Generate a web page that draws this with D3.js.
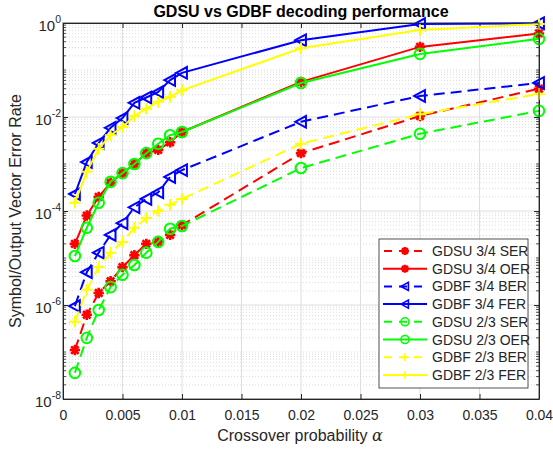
<!DOCTYPE html>
<html>
<head>
<meta charset="utf-8">
<script src="https://cdn.jsdelivr.net/npm/d3@7"></script>
<style>
  body { margin: 0; background: #ffffff; }
  text { font-family: "Liberation Sans", Arial, sans-serif; }
</style>
</head>
<body>
<div id="myChart"></div>
<script>
// data
var alpha = [0.001, 0.002, 0.003, 0.004, 0.005, 0.006, 0.007, 0.008, 0.009, 0.01, 0.02, 0.03, 0.04];

var gdsu34SER = [1.1e-7, 6.2e-7, 1.8e-6, 3.2e-6, 6.4e-6, 1.15e-5, 2.0e-5, 2.2e-5, 3.1e-5, 5.0e-5, 1.7e-3, 0.0105, 0.040];
var gdsu34OER = [2.0e-5, 8.0e-5, 2.0e-4, 4.0e-4, 6.4e-4, 1.0e-3, 1.7e-3, 2.0e-3, 2.9e-3, 4.8e-3, 0.056, 0.31, 0.60];
var gdbf34BER = [9.5e-7, 5.0e-6, 1.3e-5, 3.1e-5, 5.5e-5, 1.2e-4, 1.8e-4, 2.5e-4, 5.3e-4, 7.4e-4, 7.9e-3, 0.028, 0.053];
var gdbf34FER = [2.3e-4, 1.1e-3, 2.8e-3, 5.9e-3, 9.5e-3, 0.020, 0.026, 0.034, 0.061, 0.087, 0.43, 0.95, 0.99];
var gdsu23SER = [3.6e-8, 2.0e-7, 7.8e-7, 2.4e-6, 4.4e-6, 7.1e-6, 1.3e-5, 2.2e-5, 4.2e-5, 4.8e-5, 8.2e-4, 4.4e-3, 0.0135];
var gdsu23OER = [1.1e-5, 4.4e-5, 1.5e-4, 4.2e-4, 6.4e-4, 1.0e-3, 1.7e-3, 2.7e-3, 4.1e-3, 4.8e-3, 0.053, 0.22, 0.46];
var gdbf23BER = [4.4e-7, 2.1e-6, 6.4e-6, 1.3e-5, 2.2e-5, 4.4e-5, 7.1e-5, 1.0e-4, 1.35e-4, 1.8e-4, 2.7e-3, 0.0115, 0.031];
var gdbf23FER = [1.5e-4, 6.8e-4, 2.1e-3, 4.1e-3, 6.1e-3, 0.0105, 0.015, 0.021, 0.027, 0.037, 0.29, 0.71, 0.95];

var xTicks = [0, 0.005, 0.01, 0.015, 0.02, 0.025, 0.03, 0.035, 0.04];
var xTickLabels = ["0", "0.005", "0.01", "0.015", "0.02", "0.025", "0.03", "0.035", "0.04"];
var yTicks = [1e-8, 1e-6, 1e-4, 1e-2, 1];
var yTickExp = ["-8", "-6", "-4", "-2", "0"];

var series = [
  {name: "GDSU 3/4 SER", values: gdsu34SER, color: "#ff0000", dash: true,  marker: "star"},
  {name: "GDSU 3/4 OER", values: gdsu34OER, color: "#ff0000", dash: false, marker: "star"},
  {name: "GDBF 3/4 BER", values: gdbf34BER, color: "#0000ff", dash: true,  marker: "tri"},
  {name: "GDBF 3/4 FER", values: gdbf34FER, color: "#0000ff", dash: false, marker: "tri"},
  {name: "GDSU 2/3 SER", values: gdsu23SER, color: "#00ff00", dash: true,  marker: "circle"},
  {name: "GDSU 2/3 OER", values: gdsu23OER, color: "#00ff00", dash: false, marker: "circle"},
  {name: "GDBF 2/3 BER", values: gdbf23BER, color: "#ffff00", dash: true,  marker: "plus"},
  {name: "GDBF 2/3 FER", values: gdbf23FER, color: "#ffff00", dash: false, marker: "plus"}
];

// set the dimensions and margins of the graph
var margin = {top: 23, right: 14, bottom: 50, left: 63},
    width = 553 - margin.left - margin.right,
    height = 449 - margin.top - margin.bottom;

var axisColor = "#262626";

var root = d3.select("#myChart")
  .append("svg")
    .attr("width", 553)
    .attr("height", 449);

var svg = root.append("g")
    .attr("transform", "translate(" + margin.left + "," + margin.top + ")");

var x = d3.scaleLinear().domain([0, 0.04]).range([0, width]);
var y = d3.scaleLog().domain([1e-8, 1]).range([height, 0]);

// minor y values (every sub-decade except the labelled ones)
var minorY = [];
for (var e = -8; e < 0; e++) {
  for (var k = 1; k <= 9; k++) {
    var v = k * Math.pow(10, e);
    if (k == 1 && (e % 2 == 0)) continue;
    minorY.push(v);
  }
}

// minor grid (dotted)
svg.selectAll("minorgrid")
  .data(minorY)
  .enter()
  .append("line")
    .attr("x1", 0)
    .attr("x2", width)
    .attr("y1", function(d) { return y(d); })
    .attr("y2", function(d) { return y(d); })
    .attr("stroke", "#c4c4c4")
    .attr("stroke-width", 0.6)
    .style("stroke-dasharray", "1,2");

// major grid
svg.selectAll("xgrid")
  .data(xTicks.slice(1, -1))
  .enter()
  .append("line")
    .attr("x1", function(d) { return x(d); })
    .attr("x2", function(d) { return x(d); })
    .attr("y1", 0)
    .attr("y2", height)
    .attr("stroke", "#dedede")
    .attr("stroke-width", 1);

svg.selectAll("ygrid")
  .data(yTicks.slice(1, -1))
  .enter()
  .append("line")
    .attr("x1", 0)
    .attr("x2", width)
    .attr("y1", function(d) { return y(d); })
    .attr("y2", function(d) { return y(d); })
    .attr("stroke", "#dedede")
    .attr("stroke-width", 1);

// axes, ticks pointing inward
function styleAxis(g) {
  g.select(".domain").attr("stroke", axisColor);
  g.selectAll(".tick line").attr("stroke", axisColor);
  g.selectAll(".tick text").attr("fill", axisColor).style("font-size", "14px");
}

svg.append("g")
    .attr("transform", "translate(0," + height + ")")
    .call(d3.axisBottom(x)
      .tickValues(xTicks)
      .tickFormat(function(d, i) { return xTickLabels[i]; })
      .tickSizeInner(-5)
      .tickSizeOuter(0)
      .tickPadding(11))
    .call(styleAxis);

svg.append("g")
    .call(d3.axisTop(x)
      .tickValues(xTicks)
      .tickFormat("")
      .tickSizeInner(-5)
      .tickSizeOuter(0))
    .call(styleAxis);

svg.append("g")
    .call(d3.axisLeft(y)
      .tickValues(yTicks)
      .tickFormat("")
      .tickSizeInner(-5)
      .tickSizeOuter(0))
    .call(styleAxis);

svg.append("g")
    .attr("transform", "translate(" + width + ",0)")
    .call(d3.axisRight(y)
      .tickValues(yTicks)
      .tickFormat("")
      .tickSizeInner(-5)
      .tickSizeOuter(0))
    .call(styleAxis);

// minor ticks left and right
[0, width].forEach(function(x0) {
  svg.selectAll("minortick")
    .data(minorY)
    .enter()
    .append("line")
      .attr("x1", x0)
      .attr("x2", x0 == 0 ? 3 : width - 3)
      .attr("y1", function(d) { return y(d); })
      .attr("y2", function(d) { return y(d); })
      .attr("stroke", axisColor)
      .attr("stroke-width", 0.8);
});

// y tick labels 10^n
yTicks.forEach(function(t, i) {
  var txt = svg.append("text")
      .attr("x", -2)
      .attr("y", y(t) + 8)
      .attr("text-anchor", "end")
      .attr("fill", axisColor)
      .style("font-size", "15px");
  txt.append("tspan").text("10");
  txt.append("tspan")
      .attr("dy", -8)
      .style("font-size", "10.5px")
      .text(yTickExp[i]);
});

// markers
function markerPath(type, s) {
  if (type == "circle") {
    return d3.symbol().type(d3.symbolCircle).size(Math.PI * s * s)();
  }
  if (type == "tri") {
    return "M" + (-s) + ",0L" + (s * 0.85) + "," + (-s) + "L" + (s * 0.85) + "," + s + "Z";
  }
  if (type == "plus") {
    return "M" + (-s) + ",0H" + s + "M0," + (-s) + "V" + s;
  }
  // asterisk: plus and cross
  var d = s * 0.72;
  return "M" + (-s) + ",0H" + s + "M0," + (-s) + "V" + s +
         "M" + (-d) + "," + (-d) + "L" + d + "," + d +
         "M" + (-d) + "," + d + "L" + d + "," + (-d);
}
var markerSize = {circle: 5.3, tri: 5.8, plus: 5.8, star: 5.2};

var line = d3.line()
  .x(function(d) { return x(d[0]); })
  .y(function(d) { return y(d[1]); });

series.forEach(function(s) {
  var pts = alpha.map(function(a, i) { return [a, s.values[i]]; });

  svg.append("path")
    .datum(pts)
    .attr("d", line)
    .attr("fill", "none")
    .attr("stroke", s.color)
    .attr("stroke-width", 2)
    .style("stroke-dasharray", s.dash ? "11,6" : null);

  svg.selectAll("mymarker")
    .data(pts)
    .enter()
    .append("path")
      .attr("transform", function(d) { return "translate(" + x(d[0]) + "," + y(d[1]) + ")"; })
      .attr("d", markerPath(s.marker, markerSize[s.marker]))
      .attr("fill", "none")
      .attr("stroke", s.color)
      .attr("stroke-width", s.marker == "star" ? 2.6 : 2);
});

// box
svg.append("rect")
    .attr("width", width)
    .attr("height", height)
    .attr("fill", "none")
    .attr("stroke", axisColor)
    .attr("stroke-width", 0.8);

// legend
var legend = root.append("g").attr("transform", "translate(379,239)");
legend.append("rect")
    .attr("width", 149)
    .attr("height", 149)
    .attr("fill", "#ffffff")
    .attr("stroke", axisColor)
    .attr("stroke-width", 0.8);

series.forEach(function(s, i) {
  var ly = 12 + i * 17.7;
  legend.append("line")
      .attr("x1", 4)
      .attr("x2", 48)
      .attr("y1", ly)
      .attr("y2", ly)
      .attr("stroke", s.color)
      .attr("stroke-width", 2)
      .style("stroke-dasharray", s.dash ? "8,7" : null)
      .style("stroke-dashoffset", s.dash ? -1 : null);
  legend.append("path")
      .attr("transform", "translate(26," + ly + ")")
      .attr("d", markerPath(s.marker, 4))
      .attr("fill", "none")
      .attr("stroke", s.color)
      .attr("stroke-width", s.marker == "star" ? 2.4 : 1.6);
  legend.append("text")
      .attr("x", 53)
      .attr("y", ly)
      .attr("dominant-baseline", "central")
      .attr("fill", axisColor)
      .style("font-size", "14px")
      .text(s.name);
});

// title and axis labels
root.append("text")
    .attr("x", 301)
    .attr("y", 17)
    .attr("text-anchor", "middle")
    .attr("font-weight", "bold")
    .attr("fill", "#000000")
    .style("font-size", "16px")
    .text("GDSU vs GDBF decoding performance");

var xl = root.append("text")
    .attr("x", 300)
    .attr("y", 441)
    .attr("text-anchor", "middle")
    .attr("fill", axisColor)
    .style("font-size", "16px")
    .text("Crossover probability ");
xl.append("tspan")
    .attr("font-family", "DejaVu Serif, serif")
    .attr("font-style", "italic")
    .text("\u03b1");

root.append("text")
    .attr("transform", "translate(21,211) rotate(-90)")
    .attr("text-anchor", "middle")
    .attr("fill", axisColor)
    .style("font-size", "16px")
    .text("Symbol/Output Vector Error Rate");
</script>
</body>
</html>
